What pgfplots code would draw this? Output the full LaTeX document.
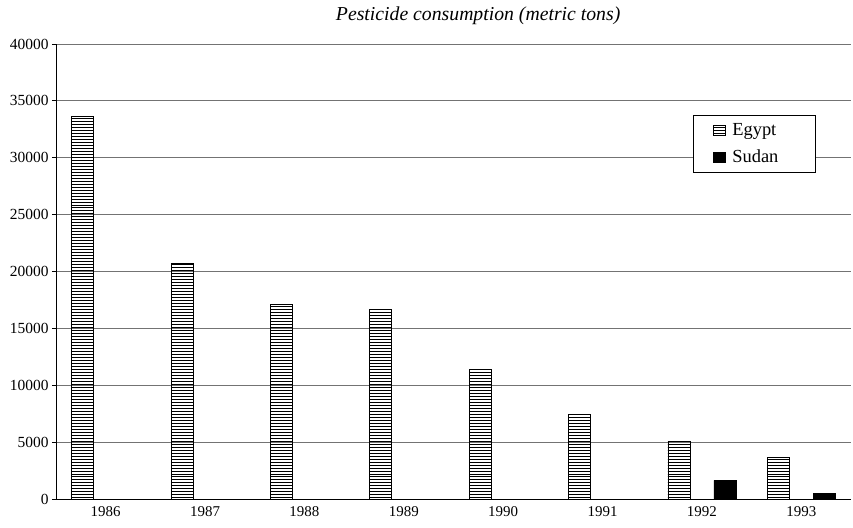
\documentclass[border=0pt]{standalone}
\usepackage{pgfplots}
\pgfplotsset{compat=1.18}
\usetikzlibrary{patterns}
\usepackage{fontspec}
\setmainfont{Liberation Serif}
\begin{document}
\begin{tikzpicture}
\begin{axis}[
  scale only axis, width=795bp, height=455bp,
  at={(0,0)}, anchor=south west,
  xmin=-0.5, xmax=7.5, ymin=0, ymax=40000,
  axis x line*=bottom, axis y line*=left,
  axis line style={black, line width=0.9pt, -},
  xtick={0,...,7},
  xticklabels={1986,1987,1988,1989,1990,1991,1992,1993},
  xtick style={draw=none},
  extra x ticks={-0.5,0.5,...,7.5},
  extra x tick labels={},
  extra x tick style={tick align=outside, major tick length=4bp, tick style={black, line width=0.8pt}, grid=none},
  ytick={0,5000,...,40000},
  ytick style={black, line width=0.8pt},
  y tick label style={/pgf/number format/1000 sep={}, font=\fontsize{15.5}{17}\selectfont},
  scaled y ticks=false,
  /pgf/number format/assume math mode=true,
  tick align=outside, major tick length=4bp,
  ymajorgrids, grid style={black!55, line width=0.8pt},
  x tick label style={font=\fontsize{15}{17}\selectfont},
  ybar, bar width=22bp,
  title={\itshape Pesticide consumption (metric tons)},
  title style={at={(0.531,1)}, anchor=base, yshift=18bp, font=\fontsize{19.8}{22}\selectfont},
  legend style={at={(0.801,0.844)}, anchor=north west, draw=black, line width=1.3pt,
    font=\fontsize{18.5}{21}\selectfont, row sep=9bp, column sep=5bp, inner xsep=4bp, inner ysep=6bp,
    text width=77bp, cells={anchor=west}},
  legend image code/.code={\path (0bp,0bp); \draw[#1, line width=0.5pt] (15bp,-5bp) rectangle (27bp,5bp);},
]
\addplot[bar shift=-23bp, draw=black, line width=0.7pt, pattern=horizontal lines, pattern color=black]
  coordinates {(0,33600) (1,20750) (2,17080) (3,16650) (4,11380) (5,7400) (6,5050) (7,3630)};
\addplot[bar shift=23bp, draw=black, fill=black]
  coordinates {(6,1640) (7,470)};
\legend{Egypt,Sudan}
\end{axis}
\pgfresetboundingbox
\path[use as bounding box] (-56bp,-29bp) rectangle (797bp,499bp);
\end{tikzpicture}
\end{document}
